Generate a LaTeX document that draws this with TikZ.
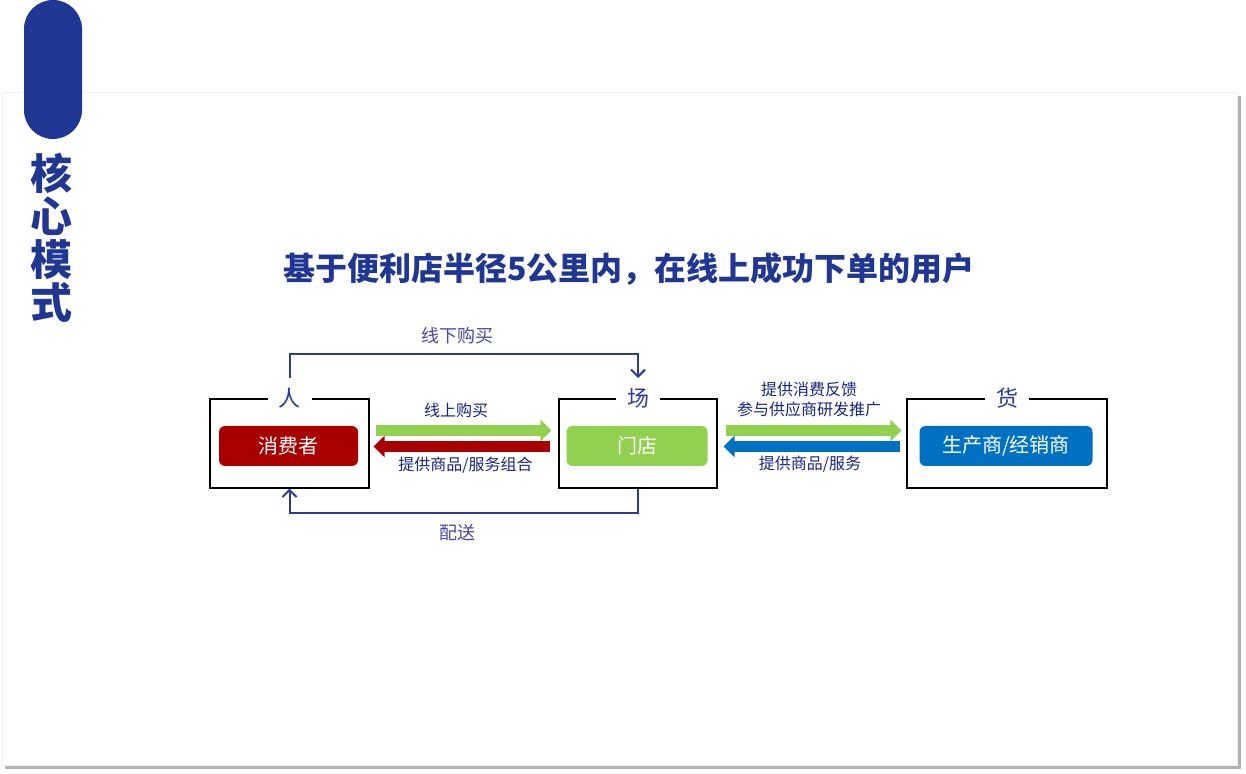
\documentclass[tikz,border=0pt]{standalone}
\usepackage{fontspec}
\setmainfont{Noto Sans CJK SC}
\usetikzlibrary{arrows.meta,calc}

\definecolor{brand}{RGB}{31,54,147}
\definecolor{linkblue}{RGB}{43,58,150}
\definecolor{labelblue}{RGB}{26,37,128}
\definecolor{offline}{RGB}{78,70,166}
\definecolor{consred}{RGB}{168,0,0}
\definecolor{storegreen}{RGB}{146,208,80}
\definecolor{supplyblue}{RGB}{0,112,192}

\begin{document}
\begin{tikzpicture}[
    x=0.5pt, y=-0.5pt,
    role/.style={
        draw=black,
        line width=0.6pt,
        minimum height=44.5pt,
        inner sep=0pt
    },
    tag/.style={
        fill=white,
        text=linkblue,
        font=\fontsize{11}{11}\selectfont,
        minimum width=22pt,
        minimum height=20pt,
        inner sep=0pt
    },
    party/.style={
        rounded corners=3pt,
        minimum height=20pt,
        inner sep=0pt,
        text=white,
        font=\fontsize{10}{10}\selectfont
    },
    flowtext/.style={
        text=labelblue,
        font=\fontsize{8}{9.7}\selectfont,
        align=center,
        inner sep=0pt
    },
    link/.style={
        draw=linkblue,
        line width=1pt,
        -{Straight Barb[length=3.5pt,width=7pt]}
    },
    fat/.style={
        line width=5.75pt,
        -{Triangle[length=5.5pt,width=10.5pt]}
    }
]
\useasboundingbox (0,0) rectangle (1246,774);

% Page
\fill[black!30] (5,96) rectangle (1241,769);
\filldraw[fill=white, draw=black!6] (2,92) rectangle (1237,765);

% Side tab
\fill[brand, rounded corners=14.5pt] (24,0) rectangle (82,139);
\node[text=brand, font=\fontsize{21}{21.5}\selectfont\bfseries, align=center, inner sep=0pt] (core) at (52,237.5) {核\\心\\模\\式};

% Title
\node[text=brand, font=\fontsize{16}{16}\selectfont\bfseries, inner sep=0pt] (title) at (629,269) {基于便利店半径5公里内，在线上成功下单的用户};

% Boxes
\node[role, minimum width=79.5pt] (renbox) at (289.5,443.5) {};
\node[role, minimum width=79pt] (changbox) at (638,443.5) {};
\node[role, minimum width=100pt] (huobox) at (1007,443.5) {};

\node[tag] (ren) at (renbox.north) {人};
\node[tag] (chang) at (changbox.north) {场};
\node[tag] (huo) at (huobox.north) {货};

\node[party, fill=consred, minimum width=69.5pt] (consumer) at (288.5,446) {消费者};
\node[party, fill=storegreen, minimum width=70.5pt] (store) at (637,446) {门店};
\node[party, fill=supplyblue, minimum width=86.5pt] (supplier) at (1006,446) {生产商/经销商};

% Flows
\draw[fat, storegreen] ($(renbox.east)+(6,-13)$) -- ($(changbox.west)+(-7,-13)$);
\draw[fat, consred] ($(changbox.west)+(-8,3)$) -- ($(renbox.east)+(4,3)$);
\draw[fat, storegreen] ($(changbox.east)+(8,-13)$) -- ($(huobox.west)+(-5,-13)$);
\draw[fat, supplyblue] ($(huobox.west)+(-6,3)$) -- ($(changbox.east)+(6,3)$);

\node[flowtext] (online) at (456,410) {线上购买};
\node[flowtext] (combo) at (465.5,465.5) {提供商品/服务组合};
\node[flowtext] (feedback) at (809,399.5) {提供消费反馈\\参与供应商研发推广};
\node[flowtext] (goods) at (810,464.5) {提供商品/服务};

% Offline purchase and delivery
\draw[link] (ren.north) -- ++(0,-24) -| (chang.north);
\draw[link] (changbox.south) -- ++(0,24) -| (renbox.south);

\node[text=offline, font=\fontsize{9}{9}\selectfont, inner sep=0pt] (offbuy) at (457,336) {线下购买};
\node[text=offline, font=\fontsize{9}{9}\selectfont, inner sep=0pt] (delivery) at (457,533) {配送};

\end{tikzpicture}
\end{document}
